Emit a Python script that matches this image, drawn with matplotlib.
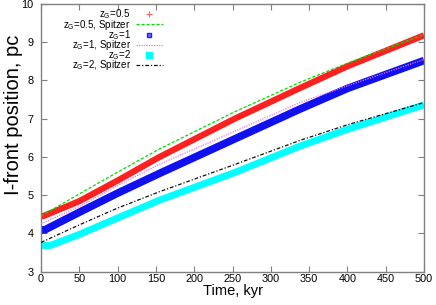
import matplotlib
matplotlib.use("Agg")
import matplotlib.pyplot as plt
from matplotlib.lines import Line2D

plt.rcParams['font.family'] = ['Liberation Sans', 'DejaVu Sans']
plt.rcParams['mathtext.fontset'] = 'custom'
plt.rcParams['mathtext.rm'] = 'Liberation Sans'
plt.rcParams['mathtext.it'] = 'Liberation Sans'

# time in kyr
t_red = [0, 3, 50, 100, 155, 253, 338, 400, 500]
zg05 = [4.45, 4.45, 4.84, 5.38, 6.00, 7.00, 7.80, 8.37, 9.18]
t_green = [0, 50, 100, 155, 253, 338, 400, 500]
zg05_spitzer = [4.45, 5.03, 5.60, 6.21, 7.18, 7.95, 8.45, 9.20]
t_blue = [0, 5, 50, 100, 155, 253, 338, 400, 500]
zg1 = [4.09, 4.09, 4.55, 5.05, 5.57, 6.47, 7.25, 7.79, 8.52]
t_mag = [0, 50, 100, 155, 253, 338, 400, 500]
zg1_spitzer = [4.25, 4.70, 5.25, 5.81, 6.67, 7.42, 7.86, 8.55]
t_cyan = [0, 12, 50, 100, 155, 253, 338, 400, 500]
zg2 = [3.68, 3.68, 3.97, 4.40, 4.87, 5.59, 6.28, 6.72, 7.36]
t_black = [0, 50, 100, 155, 253, 338, 400, 500]
zg2_spitzer = [3.76, 4.22, 4.66, 5.09, 5.80, 6.43, 6.84, 7.42]

labels = [r'z$_G$=0.5', r'z$_G$=0.5, Spitzer', r'z$_G$=1',
          r'z$_G$=1, Spitzer', r'z$_G$=2', r'z$_G$=2, Spitzer']
xticks = [0, 50, 100, 150, 200, 250, 300, 350, 400, 450, 500]
yticks = [3, 4, 5, 6, 7, 8, 9, 10]

fig = plt.figure(figsize=(4.36, 3.05), dpi=100)
ax = fig.add_axes([41/436, 1-271.5/305, 383/436, 267.5/305])

ax.plot(t_green, zg05_spitzer, color='#00dd00', lw=0.9, ls=(0, (2.5, 1.5)), zorder=3)
ax.plot(t_red, zg05, color='#ff2020', lw=4.5, solid_capstyle='butt', zorder=2)
ax.plot(t_mag, zg1_spitzer, color='#f070f0', lw=0.9, ls=(0, (1, 1)), zorder=3)
ax.plot(t_blue, zg1, color='#1010f0', lw=5.5, solid_capstyle='butt', zorder=2)
ax.plot(t_black, zg2_spitzer, color='#101010', lw=0.9, ls=(0, (3, 1.5, 1, 1.5)), zorder=3)
ax.plot(t_cyan, zg2, color='#00ffff', lw=5.0, solid_capstyle='butt', zorder=2)

ax.set_xlim(0, 500)
ax.set_ylim(3, 10)
ax.set_xticks(xticks)
ax.set_yticks(yticks)
ax.tick_params(direction='in', length=4, width=0.8, color='#808080',
               top=True, right=True, labelsize=7.8)
ax.tick_params(axis='x', pad=1.5)
ax.tick_params(axis='y', pad=5.5)
for s in ax.spines.values():
    s.set_color('#808080')
    s.set_linewidth(1.0)

ax.set_xlabel('Time, kyr', fontsize=10.5, labelpad=0)
ax.set_ylabel('I-front position, pc', fontsize=14.5)
ax.yaxis.set_label_coords(-0.046, 0.585)

handles = [
    Line2D([], [], ls='none', marker='+', color='#ff6060', ms=5, mew=0.8),
    Line2D([], [], color='#00dd00', lw=0.9, ls=(0, (2.5, 1.5))),
    Line2D([], [], ls='none', marker='s', color='#2020ff', ms=3.5, mfc='#7070ff', mec='#2020ff'),
    Line2D([], [], color='#f070f0', lw=0.9, ls=(0, (1, 1))),
    Line2D([], [], ls='none', marker='s', color='#00ffff', ms=4),
    Line2D([], [], color='#101010', lw=0.9, ls=(0, (3, 1.5, 1, 1.5))),
]
ax.legend(handles, labels, loc='upper right', bbox_to_anchor=((163-41)/383, (271.5-7.5)/267.5),
          frameon=False, markerfirst=False, fontsize=7, handlelength=2.8,
          handletextpad=0.5, labelspacing=-0.38, borderpad=0, borderaxespad=0)

fig.savefig('out.png', dpi=100)
